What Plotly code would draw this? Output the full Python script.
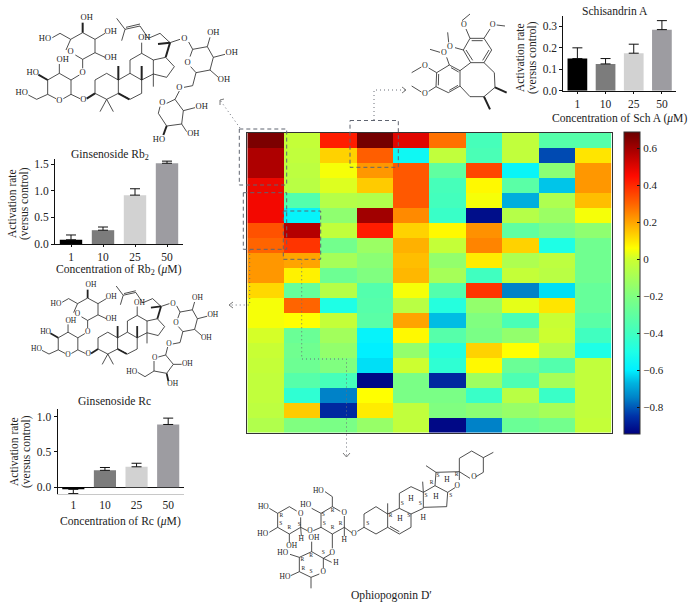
import plotly.graph_objects as go

W, H = 691, 607
SERIF = "Liberation Serif"
TXT = "#222222"

# ---------- data ----------
conc = ["1", "10", "25", "50"]
bar_colors = ["#000000", "#7c7c7c", "#d2d2d2", "#9d9ca1"]

rb2_values = [0.08, 0.26, 0.92, 1.52]
rb2_err = [0.09, 0.06, 0.12, 0.04]
rc_values = [-0.03, 0.24, 0.29, 0.89]
rc_err_up = [0.0, 0.04, 0.05, 0.09]
rc_err_down = [0.06, 0.0, 0.0, 0.0]
scha_values = [0.15, 0.125, 0.175, 0.285]
scha_err = [0.05, 0.025, 0.042, 0.042]

heat_values = [
    [0.66, -0.02, 0.42, 0.67, 0.50, 0.28, -0.38, -0.03, -0.33, -0.33],
    [0.58, -0.03, 0.13, 0.31, -0.55, -0.03, -0.37, -0.03, -0.82, 0.10],
    [0.58, -0.04, 0.05, 0.22, 0.32, -0.30, 0.35, -0.57, -0.17, 0.22],
    [0.48, -0.05, 0.02, 0.14, 0.32, -0.38, 0.07, -0.32, -0.65, 0.22],
    [0.47, -0.34, -0.06, -0.07, 0.32, -0.39, 0.05, -0.68, -0.08, 0.16],
    [0.47, -0.58, -0.16, 0.60, 0.24, -0.42, -0.92, -0.06, -0.13, 0.05],
    [0.33, 0.57, -0.03, 0.42, 0.13, 0.07, 0.23, -0.30, -0.22, -0.16],
    [0.30, 0.38, -0.24, -0.13, 0.18, -0.02, 0.25, 0.13, -0.50, -0.25],
    [0.22, 0.20, -0.10, -0.17, 0.16, -0.15, 0.09, -0.08, -0.04, -0.25],
    [0.22, 0.08, -0.26, -0.20, 0.17, -0.10, -0.40, -0.02, -0.05, -0.25],
    [0.12, -0.28, -0.06, -0.34, 0.05, -0.34, 0.38, -0.75, -0.62, -0.28],
    [0.05, 0.30, -0.50, -0.33, -0.05, -0.48, -0.15, 0.03, 0.10, -0.28],
    [0.05, 0.06, -0.02, -0.32, 0.20, -0.66, -0.20, -0.37, -0.01, -0.32],
    [0.01, -0.27, -0.11, -0.58, 0.07, -0.33, -0.22, -0.15, 0.00, -0.40],
    [-0.01, -0.25, -0.15, -0.60, -0.15, -0.48, 0.13, 0.06, -0.07, -0.50],
    [-0.02, -0.26, -0.20, -0.62, 0.00, -0.45, 0.07, -0.27, -0.34, -0.03],
    [-0.03, -0.33, -0.38, -0.93, -0.22, -0.87, -0.12, -0.36, -0.10, -0.03],
    [-0.03, -0.45, -0.75, 0.06, -0.22, -0.22, -0.42, -0.05, -0.42, -0.03],
    [-0.04, 0.14, -0.87, 0.09, -0.03, -0.20, -0.17, -0.14, -0.10, -0.03],
    [-0.07, -0.20, -0.22, -0.14, -0.03, -0.93, -0.75, -0.27, -0.24, -0.02],
]
z_min, z_max = -0.946, 0.688
cbar_ticks = [-0.8, -0.6, -0.4, -0.2, 0, 0.2, 0.4, 0.6]
cbar_stops = [
    (-0.946, "#00007f"), (-0.85, "#0032a8"), (-0.75, "#0082c8"), (-0.67, "#00b4e0"),
    (-0.6, "#00f0ff"), (-0.5, "#1effe6"), (-0.4, "#40ffc0"), (-0.2, "#80ff80"),
    (0.0, "#ccff30"), (0.06, "#ffff00"), (0.2, "#ffa400"), (0.3, "#ff6400"),
    (0.45, "#ff0a00"), (0.57, "#b40000"), (0.688, "#6a0000"),
]
colorscale = [[(v - z_min) / (z_max - z_min), c] for v, c in cbar_stops]

# ---------- schematic molecule drawings (crop-pixel coordinates, 3x) ----------
core_bonds = [
    [(212, 118), (248, 98), (285, 118), (285, 158), (248, 178), (226, 165)],
    [(198, 150), (212, 118)],
    [(212, 118), (180, 100), (157, 113)],
    [(285, 118), (315, 100)], [(285, 158), (315, 172)], [(248, 178), (248, 205)],
    [(168, 296), (143, 283), (143, 240), (178, 220), (213, 240), (213, 283), (190, 296)],
    [(213, 240), (238, 225)], [(178, 220), (178, 192)], [(143, 283), (110, 298), (85, 285)],
    [(213, 283), (240, 296)],
    [(285, 280), (285, 240), (320, 220), (355, 240), (355, 280), (320, 298), (285, 280)],
    [(320, 298), (300, 335)], [(320, 298), (340, 335)],
    [(355, 240), (390, 220), (425, 240), (425, 280), (390, 298), (355, 280)],
    [(390, 220), (390, 180), (425, 160), (460, 180), (460, 222), (425, 240)],
    [(425, 160), (425, 128)],
    [(460, 180), (497, 172), (523, 200), (500, 232), (460, 222)],
    [(460, 222), (460, 260)],
    [(510, 128), (480, 100), (445, 115), (420, 78), (375, 88)],
    [(420, 72), (378, 82)],
    [(375, 88), (350, 55)], [(375, 88), (365, 122)],
    [(510, 128), (540, 118)], [(566, 126), (578, 148)],
    [(570, 170), (578, 148), (622, 140), (640, 172), (630, 210), (588, 218), (572, 200)],
    [(622, 140), (630, 112)], [(640, 172), (675, 163)], [(630, 210), (655, 232)],
    [(588, 218), (578, 257), (552, 262)],
]
core_wedges = [
    [(248, 98), (248, 68)], [(143, 240), (115, 224)], [(260, 296), (285, 280)],
    [(355, 240), (355, 198)], [(425, 240), (425, 198)], [(355, 280), (388, 298)],
    [(497, 172), (510, 128)], [(510, 128), (474, 132)],
]
core_labels = [
    ("OH", 260, 53), ("HO", 135, 118), ("OH", 332, 96), ("OH", 332, 175), ("O", 212, 157),
    ("O", 248, 218), ("OH", 188, 180), ("HO", 98, 218), ("HO", 65, 280), ("O", 178, 302),
    ("O", 250, 300), ("OH", 433, 115), ("O", 553, 118), ("OH", 640, 98), ("OH", 695, 160),
    ("OH", 672, 240), ("O", 563, 188), ("O", 538, 263),
]
rb2_ring_bonds = [
    [(538, 273), (525, 298), (550, 332), (545, 372), (500, 378), (475, 340), (480, 320)],
    [(500, 310), (525, 298)],
    [(550, 332), (585, 323)], [(545, 372), (560, 395)],
]
rb2_ring_wedges = [[(500, 378), (490, 405)]]
rb2_ring_labels = [("O", 487, 310), ("OH", 605, 320), ("OH", 580, 402), ("HO", 477, 420)]

rc_ring_bonds = [
    [(503, 216), (497, 240), (475, 246)],
    [(497, 240), (520, 268), (500, 295), (462, 288), (462, 258)],
    [(520, 268), (545, 268)], [(462, 288), (435, 305), (413, 292)],
]
rc_ring_wedges = [[(500, 295), (505, 318)]]
rc_ring_labels = [("O", 464, 248), ("OH", 562, 268), ("OH", 518, 328), ("HO", 395, 290)]

scha_bonds = [
    [(392, 188), (370, 150), (390, 115), (432, 115), (455, 150), (432, 188), (392, 188)],
    [(398, 181), (378, 150)], [(395, 122), (428, 122)], [(447, 150), (428, 181)],
    [(360, 212), (328, 195), (290, 218), (288, 260), (325, 278), (360, 258), (360, 212)],
    [(333, 203), (356, 216)], [(296, 222), (295, 256)], [(328, 271), (354, 256)],
    [(392, 188), (360, 212)],
    [(360, 258), (390, 290), (432, 290), (465, 262), (463, 218), (432, 188)],
    [(390, 115), (378, 87)], [(366, 62), (390, 42)],
    [(432, 115), (450, 87)], [(470, 75), (495, 78)],
    [(370, 150), (345, 143)], [(326, 127), (323, 97)],
    [(328, 195), (320, 172)], [(300, 157), (270, 148)],
    [(290, 218), (266, 204)], [(244, 201), (215, 218)],
    [(288, 260), (266, 274)], [(244, 276), (215, 258)],
]
scha_wedges = [[(465, 262), (500, 278)], [(432, 290), (450, 328)]]
scha_labels = [("O", 372, 75), ("O", 458, 75), ("O", 330, 140), ("O", 312, 160), ("O", 255, 197), ("O", 255, 282)]

oph_bonds = [
    [(372, 262), (372, 222), (408, 200), (443, 222), (443, 262), (408, 282), (372, 262)],
    [(443, 222), (478, 205), (513, 222), (513, 262), (478, 282), (443, 262)],
    [(450, 259), (478, 275)],
    [(478, 205), (478, 160), (513, 140), (550, 157), (550, 205), (513, 222)],
    [(277, 200), (301, 214)], [(313, 228), (313, 262), (277, 282), (243, 262), (243, 220), (277, 200)],
    [(277, 200), (277, 170), (255, 155)], [(243, 262), (220, 272)], [(277, 282), (277, 325)],
    [(313, 262), (335, 278)], [(352, 274), (372, 262)], [(313, 262), (313, 288)],
    [(148, 200), (170, 213)], [(182, 232), (182, 262), (148, 282), (113, 262), (113, 220), (148, 200)],
    [(148, 282), (148, 308)], [(182, 262), (202, 272)], [(182, 262), (184, 288)],
    [(215, 335), (250, 355), (250, 385)], [(238, 402), (213, 412), (178, 395), (178, 352), (215, 335)],
    [(215, 335), (215, 305)], [(178, 395), (152, 407)], [(213, 412), (213, 445)],
    [(250, 355), (275, 367)], [(250, 355), (272, 342)],
    [(443, 222), (443, 190)], [(550, 157), (548, 125)],
    [(113, 220), (88, 205)], [(113, 262), (88, 277)], [(243, 220), (215, 205)], [(178, 352), (150, 343)],
]
oph_right_bonds = [
    [(70, 142), (105, 122), (143, 142), (140, 185), (72, 187)],
    [(105, 122), (108, 82), (178, 80), (178, 105)], [(165, 128), (143, 142)],
    [(178, 80), (178, 40), (215, 18), (250, 38), (250, 82), (228, 95)],
    [(210, 100), (178, 80)], [(250, 38), (280, 22)], [(108, 82), (78, 62)],
]
oph_labels = [
    ("HO", 235, 152), ("HO", 197, 195), ("O", 210, 272), ("O", 277, 338), ("O", 342, 282), ("H", 313, 300),
    ("O", 313, 220), ("HO", 70, 200), ("HO", 68, 282), ("OH", 155, 318), ("H", 184, 297), ("O", 182, 222),
    ("OH", 222, 293), ("HO", 128, 340), ("HO", 135, 412), ("O", 250, 395), ("H", 288, 370),
    ("H", 480, 236), ("H", 513, 177), ("H", 550, 235), ("H", 588, 172), ("H", 621, 120),
]
oph_stereo = [
    ("S", 383, 250), ("R", 452, 228), ("S", 487, 190), ("S", 506, 226), ("S", 541, 190), ("S", 558, 168),
    ("R", 575, 128), ("S", 594, 108), ("R", 650, 105), ("S", 632, 168), ("R", 124, 226), ("S", 122, 250),
    ("R", 148, 264), ("S", 178, 254), ("R", 278, 213), ("S", 253, 250), ("R", 278, 264), ("R", 302, 250),
    ("S", 250, 225), ("R", 213, 347), ("R", 187, 360), ("R", 190, 386), ("S", 213, 396), ("S", 250, 338),
]


def to_px(ox, oy, s=1.0, ax=0.0, ay=0.0, bx=0.0, by=0.0):
    def f(x, y):
        return ox + (bx + s * (x - ax)) / 3, oy + (by + s * (y - ay)) / 3
    return f


def poly_xy(lines, f):
    xs, ys = [], []
    for ln in lines:
        for x, y in ln:
            px, py = f(x, y)
            xs.append(px)
            ys.append(py)
        xs.append(None)
        ys.append(None)
    return xs, ys


fig = go.Figure()


def bars(name, values, err_up, err_down, xa, ya):
    fig.add_trace(go.Bar(
        x=conc, y=values, marker=dict(color=bar_colors, line=dict(width=0)), width=0.7,
        error_y=dict(type="data", symmetric=False, array=err_up, arrayminus=err_down,
                     color="#111111", thickness=1, width=5),
        name=name, showlegend=False, xaxis=xa, yaxis=ya))


bars("Ginsenoside Rb2", rb2_values, rb2_err, [0, 0, 0, 0], "x", "y")
bars("Ginsenoside Rc", rc_values, rc_err_up, rc_err_down, "x2", "y2")
bars("Schisandrin A", scha_values, scha_err, [0, 0, 0, 0], "x3", "y3")

fig.add_trace(go.Heatmap(
    z=heat_values, zmin=z_min, zmax=z_max, colorscale=colorscale, xaxis="x4", yaxis="y4",
    colorbar=dict(
        x=623.7 / W, xanchor="left", xpad=0, y=1 - 132.3 / H, yanchor="top", ypad=0,
        len=(434 - 132.3) / H, lenmode="fraction", thickness=15.5, thicknessmode="pixels",
        tickmode="array", tickvals=cbar_ticks,
        ticktext=["\u22120.8", "\u22120.6", "\u22120.4", "\u22120.2", "0", "0.2", "0.4", "0.6"],
        ticks="inside", ticklen=3, tickcolor="#111111", outlinecolor="#333333", outlinewidth=1,
        tickfont=dict(family=SERIF, size=11, color=TXT)),
))


def add_lines(xy, width=0.8, color="#222222", dash="solid"):
    fig.add_trace(go.Scatter(x=xy[0], y=xy[1], mode="lines", showlegend=False, hoverinfo="skip",
                             line=dict(color=color, width=width, dash=dash), xaxis="x5", yaxis="y5"))


def add_labels(labels, f, size):
    pts = [f(x, y) for _, x, y in labels]
    fig.add_trace(go.Scatter(x=[p[0] for p in pts], y=[p[1] for p in pts], text=[t for t, _, _ in labels],
                             mode="text", textposition="middle center", showlegend=False, hoverinfo="skip",
                             textfont=dict(family=SERIF, size=size, color="#222222"), xaxis="x5", yaxis="y5"))


f_rb2 = to_px(0, 0)
add_lines(poly_xy(core_bonds + rb2_ring_bonds, f_rb2))
add_lines(poly_xy(core_wedges + rb2_ring_wedges, f_rb2), width=2)
add_labels(core_labels + rb2_ring_labels, f_rb2, 8.5)

f_rc = to_px(0, 275, 0.84, 60, 280, 105, 222)
f_rc2 = to_px(0, 275)
add_lines(poly_xy(core_bonds, f_rc))
add_lines(poly_xy(core_wedges, f_rc), width=1.8)
add_labels(core_labels, f_rc, 7.5)
add_lines(poly_xy(rc_ring_bonds, f_rc2))
add_lines(poly_xy(rc_ring_wedges, f_rc2), width=1.8)
add_labels(rc_ring_labels, f_rc2, 7.5)

f_sch = to_px(340, 0)
add_lines(poly_xy(scha_bonds, f_sch))
add_lines(poly_xy(scha_wedges, f_sch), width=2)
add_labels(scha_labels, f_sch, 8)

f_oph = to_px(240, 440)
f_oph2 = to_px(400, 445)
add_lines(poly_xy(oph_bonds, f_oph))
add_lines(poly_xy(oph_right_bonds, f_oph2))
add_labels(oph_labels, f_oph, 7.5)
add_labels(oph_stereo, f_oph, 5.5)
add_labels([("O", 172, 122), ("O", 222, 97)], f_oph2, 7.5)

# dashed selection boxes and dotted leaders on the heat map
dash_boxes = [
    [(239.3, 129), (286.7, 129), (286.7, 185), (239.3, 185), (239.3, 129)],
    [(243.3, 192.7), (286.7, 192.7), (286.7, 249.3), (243.3, 249.3), (243.3, 192.7)],
    [(283.3, 211), (320.7, 211), (320.7, 259.3), (283.3, 259.3), (283.3, 211)],
    [(350, 120.5), (398.3, 120.5), (398.3, 167.3), (350, 167.3), (350, 120.5)],
]
leaders = [
    [(240, 128), (220, 100)],
    [(249.7, 250), (249.7, 305), (230, 305)],
    [(374, 120), (374, 90), (405, 90)],
    [(301.7, 259.3), (301.7, 359), (346.5, 359), (346.5, 456)],
]
arrow_heads = [
    [(224, 99), (220, 100), (220, 105)],
    [(233, 302), (229, 305), (233, 308)],
    [(402, 87), (406, 90), (402, 93)],
    [(343, 453), (346.5, 457), (350, 453)],
]
same = lambda x, y: (x, y)
add_lines(poly_xy(dash_boxes, same), width=1, color="#5f6470", dash="4px,3px")
add_lines(poly_xy(leaders, same), width=1, color="#6a6f78", dash="1px,3px")
add_lines(poly_xy(arrow_heads, same), width=0.8, color="#555555")


def dom_x(a, b):
    return [a / W, b / W]


def dom_y(top, bottom):
    return [1 - bottom / H, 1 - top / H]


tick = dict(family=SERIF, size=11.5, color=TXT)
xcommon = dict(type="category", showline=True, linecolor="#111111", linewidth=1, ticks="outside", ticklen=2,
               tickcolor="#111111", tickfont=tick, showgrid=False, zeroline=False, fixedrange=True, tickson="labels")
ycommon = dict(showline=True, linecolor="#111111", linewidth=1, ticks="outside", ticklen=3, tickcolor="#111111",
               tickfont=tick, showgrid=False, tickformat=".1f", fixedrange=True)

layout = dict(
    width=W, height=H, margin=dict(l=0, r=0, t=0, b=0, pad=0, autoexpand=False),
    paper_bgcolor="white", plot_bgcolor="rgba(0,0,0,0)",
    showlegend=False,
    xaxis=dict(domain=dom_x(55, 183), anchor="y", range=[-0.5, 3.5], **xcommon),
    yaxis=dict(domain=dom_y(159, 244), anchor="x", range=[0, 1.6], tickvals=[0, 0.5, 1.0, 1.5], zeroline=False, **ycommon),
    xaxis2=dict(domain=dom_x(57.5, 184), anchor="y2", range=[-0.5, 3.5], **{**xcommon, "linecolor": "#c8c8c8", "ticks": ""}),
    yaxis2=dict(domain=dom_y(409.3, 494.3), anchor="x2", range=[-0.1, 1.105], tickvals=[0, 0.5, 1.0],
                zeroline=True, zerolinecolor="#111111", zerolinewidth=1, **ycommon),
    xaxis3=dict(domain=dom_x(563.3, 676), anchor="y3", range=[-0.5, 3.5], **xcommon),
    yaxis3=dict(domain=dom_y(15.7, 90.7), anchor="x3", range=[0, 0.35], tickvals=[0, 0.1, 0.2, 0.3], zeroline=False, **ycommon),
    xaxis4=dict(domain=dom_x(247.3, 611.7), anchor="y4", range=[-0.5, 9.5], showticklabels=False, ticks="",
                showline=True, mirror=True, linecolor="#333333", linewidth=1, showgrid=False, zeroline=False, fixedrange=True),
    yaxis4=dict(domain=dom_y(132.7, 432.7), anchor="x4", range=[19.5, -0.5], showticklabels=False, ticks="",
                showline=True, mirror=True, linecolor="#333333", linewidth=1, showgrid=False, zeroline=False, fixedrange=True),
    xaxis5=dict(domain=[0, 1], anchor="y5", range=[0, W], visible=False, fixedrange=True),
    yaxis5=dict(domain=[0, 1], anchor="x5", range=[H, 0], visible=False, fixedrange=True),
    bargap=0.3,
)

texts = [
    ("Ginsenoside Rb<sub>2</sub>", 110, 155, 0, 11.6),
    ("Concentration of Rb<sub>2</sub> (<i>\u03bc</i>M)", 119, 270, 0, 11.6),
    ("Activation rate", 12, 204, -90, 11.5),
    ("(versus control)", 24, 204, -90, 11.5),
    ("Ginsenoside Rc", 114, 401, 0, 11.6),
    ("Concentration of Rc (<i>\u03bc</i>M)", 120.7, 521, 0, 11.6),
    ("Activation rate", 14, 452, -90, 11.5),
    ("(versus control)", 26, 452, -90, 11.5),
    ("Schisandrin A", 615, 11, 0, 11.6),
    ("Concentration of Sch A (<i>\u03bc</i>M)", 619, 118, 0, 11.6),
    ("Activation rate", 520, 58, -90, 11.5),
    ("(versus control)", 532, 58, -90, 11.5),
    ("Ophiopogonin D\u2032", 391.6, 595, 0, 11.6),
]
layout["annotations"] = [
    dict(text=t, x=x / W, y=1 - y / H, xref="paper", yref="paper", xanchor="center", yanchor="middle",
         showarrow=False, textangle=a, font=dict(family=SERIF, size=s, color=TXT))
    for t, x, y, a, s in texts
]
fig.update_layout(**layout)
fig.write_html("out.html", config={"displayModeBar": False},
               post_script="document.body.style.margin='0';")
